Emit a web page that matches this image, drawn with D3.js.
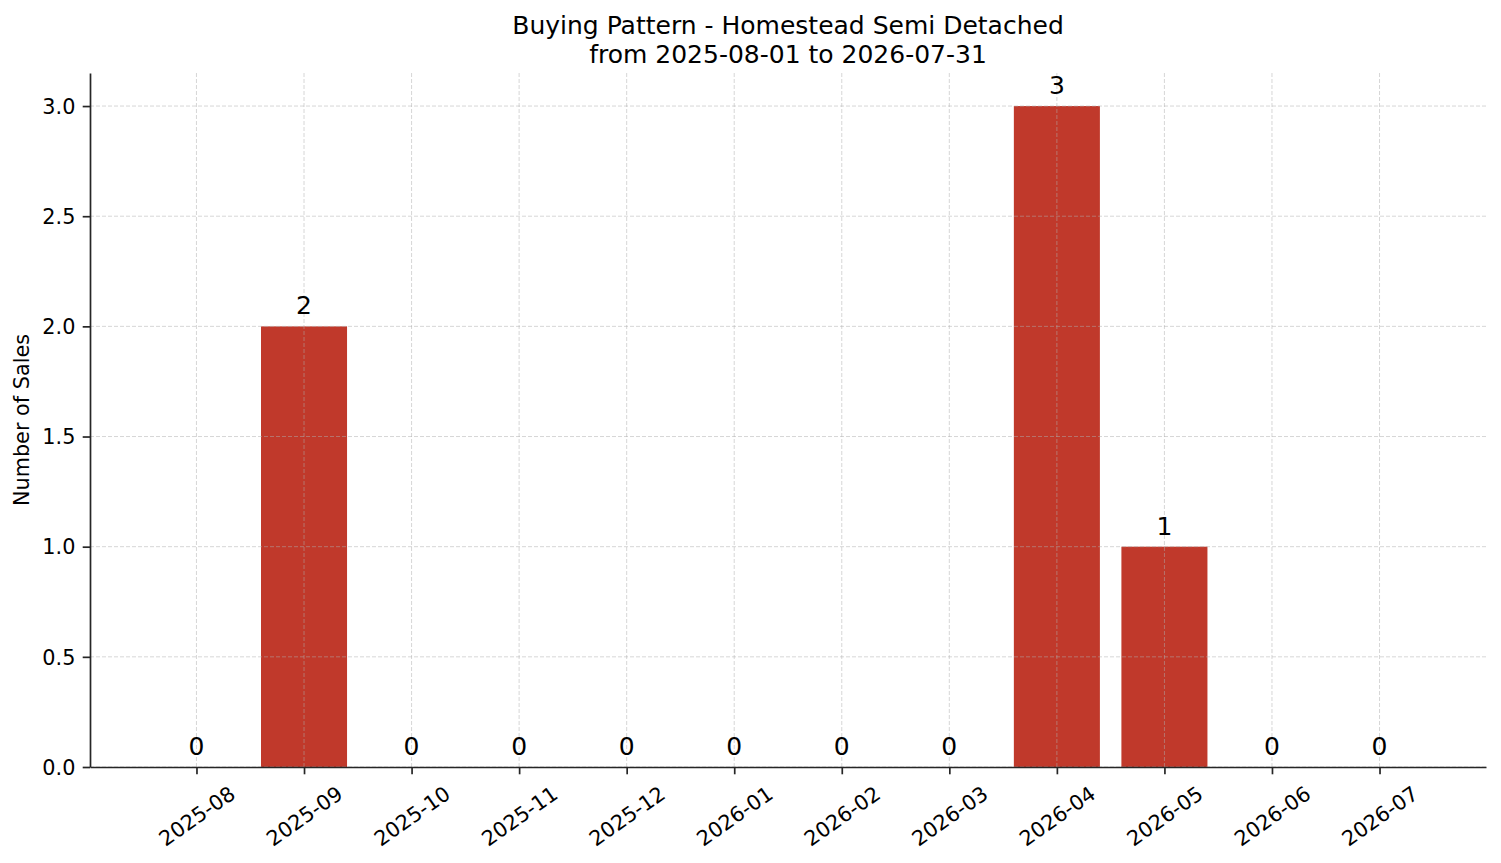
<!DOCTYPE html>
<html>
<head>
<meta charset="utf-8">
<script src="https://cdn.jsdelivr.net/npm/d3@7"></script>
<style>
  body { margin: 0; background: #fff; }
</style>
</head>
<body>
<svg width="1501" height="863" font-family="DejaVu Sans, sans-serif"></svg>
<script>
const months = ['2025-08','2025-09','2025-10','2025-11','2025-12','2026-01',
                '2026-02','2026-03','2026-04','2026-05','2026-06','2026-07'];
const sales = [0, 2, 0, 0, 0, 0, 0, 0, 3, 1, 0, 0];
const yTicks = [0, 0.5, 1.0, 1.5, 2.0, 2.5, 3.0];
const titleLines = ['Buying Pattern - Homestead Semi Detached', 'from 2025-08-01 to 2026-07-31'];

const svg = d3.select('svg');
const width  = +svg.attr('width');
const height = +svg.attr('height');

const margin = { top: 73, bottom: 96, left: 90, right: 15 };
const innerWidth = width - margin.left - margin.right;
const innerHeight = height - margin.top - margin.bottom;

const data = months.map((m, i) => ({ month: m, value: sales[i] }));

const g = svg.append('g')
  .attr('transform', `translate(${margin.left},${margin.top})`);

// matplotlib-like limits: bars of width 0.8, 5% margins
const xScale = d3.scaleLinear()
  .domain([-0.4 - 0.59, months.length - 1 + 0.4 + 0.59])
  .range([0, innerWidth]);
const yScale = d3.scaleLinear()
  .domain([0, d3.max(sales) * 1.05])
  .range([innerHeight, 0]);

const barW = xScale(0.8) - xScale(0);

// bars
g.selectAll('rect.bar')
  .data(data).enter()
  .append('rect')
    .attr('class', 'bar')
    .attr('x', (d, i) => xScale(i - 0.4))
    .attr('y', d => yScale(d.value))
    .attr('width', barW)
    .attr('height', d => innerHeight - yScale(d.value))
    .attr('fill', '#c0392b');

// grid (drawn over bars)
const grid = g.append('g').attr('class', 'grid')
  .attr('stroke', '#b0b0b0').attr('stroke-opacity', 0.5)
  .attr('stroke-width', 1).attr('stroke-dasharray', '4,2');
grid.selectAll('line.h').data(yTicks).enter().append('line')
  .attr('x1', 0).attr('x2', innerWidth)
  .attr('y1', d => yScale(d)).attr('y2', d => yScale(d));
grid.selectAll('line.v').data(months).enter().append('line')
  .attr('y1', 0).attr('y2', innerHeight)
  .attr('x1', (d, i) => xScale(i)).attr('x2', (d, i) => xScale(i));

// value labels
g.selectAll('text.val')
  .data(data).enter()
  .append('text')
    .attr('class', 'val')
    .attr('x', (d, i) => xScale(i))
    .attr('y', d => yScale(d.value) - 12)
    .attr('text-anchor', 'middle')
    .attr('font-size', 25)
    .text(d => d.value);

// axes
const yAxis = g.append('g')
  .call(d3.axisLeft(yScale).tickValues(yTicks).tickFormat(d3.format('.1f'))
    .tickSize(7.3).tickPadding(7.3).tickSizeOuter(0));
const xAxis = g.append('g')
  .attr('transform', `translate(0,${innerHeight})`)
  .call(d3.axisBottom(xScale).tickValues(d3.range(months.length))
    .tickFormat(i => months[i]).tickSize(7.3).tickSizeOuter(0));

[yAxis, xAxis].forEach(a => {
  a.attr('font-size', null).attr('font-family', null);
  a.select('.domain').attr('stroke', '#262626').attr('stroke-width', 1.7);
  a.selectAll('.tick line').attr('stroke', '#262626').attr('stroke-width', 1.7);
  a.selectAll('.tick text').attr('font-size', 20.8).attr('fill', '#000');
});
yAxis.selectAll('.tick text').attr('dy', '0.35em');

// rotated x labels, centred on tick
xAxis.selectAll('.tick text')
  .attr('y', 0).attr('dy', '0.35em')
  .attr('text-anchor', 'middle')
  .attr('transform', 'translate(0,49) rotate(-35)');

// axis label
g.append('text')
  .attr('transform', 'rotate(-90)')
  .attr('x', -innerHeight / 2)
  .attr('y', -margin.left + 29)
  .attr('text-anchor', 'middle')
  .attr('font-size', 20.8)
  .text('Number of Sales');

// title
svg.append('text')
  .attr('x', margin.left + innerWidth / 2)
  .attr('y', 34)
  .attr('text-anchor', 'middle')
  .attr('font-size', 25)
  .selectAll('tspan').data(titleLines).enter().append('tspan')
    .attr('x', margin.left + innerWidth / 2)
    .attr('dy', (d, i) => i === 0 ? 0 : 29)
    .text(d => d);
</script>
</body>
</html>
